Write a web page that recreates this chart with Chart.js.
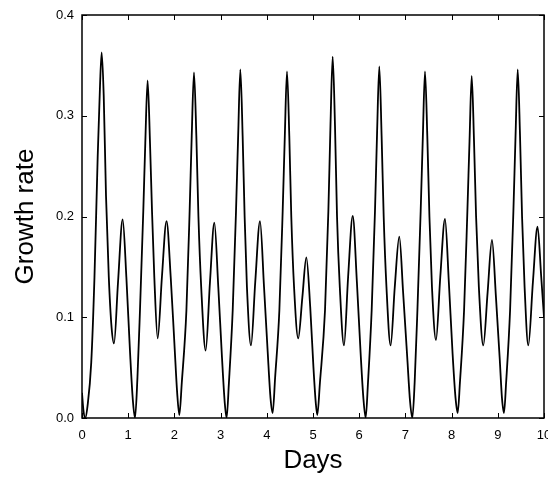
<!DOCTYPE html>
<html>
<head>
<meta charset="utf-8">
<script src="https://cdn.jsdelivr.net/npm/chart.js@4.4.1/dist/chart.umd.min.js"></script>
<style>
  html, body { margin: 0; padding: 0; background: #fff; }
  #wrap { width: 548px; height: 477px; }
</style>
</head>
<body>
<div id="wrap"><canvas id="grafico" width="548" height="477"></canvas></div>
<script>
// dados (dias, taxa de crescimento)
const dias = [
  0.00, 0.03, 0.07, 0.12, 0.20, 0.27, 0.34, 0.39, 0.426, 0.47, 0.52, 0.58, 0.64, 0.693, 0.78, 0.88, 0.96, 1.04, 1.10, 1.147,
  1.20, 1.255, 1.327, 1.37, 1.42, 1.472, 1.515, 1.565, 1.638, 1.73, 1.83, 1.92, 2.00, 2.06, 2.107,
  2.16, 2.26, 2.33, 2.375, 2.424, 2.475, 2.52, 2.58, 2.677, 2.77, 2.865, 2.95, 3.03, 3.09, 3.13,
  3.18, 3.262, 3.334, 3.38, 3.427, 3.477, 3.52, 3.57, 3.658, 3.75, 3.853, 3.94, 4.02, 4.08, 4.127,
  4.18, 4.272, 4.344, 4.39, 4.437, 4.487, 4.53, 4.59, 4.68, 4.77, 4.856, 4.94, 5.01, 5.06, 5.093,
  5.15, 5.26, 5.333, 5.378, 5.426, 5.476, 5.52, 5.58, 5.671, 5.76, 5.86, 5.95, 6.03, 6.09, 6.14,
  6.19, 6.27, 6.342, 6.388, 6.435, 6.485, 6.53, 6.59, 6.68, 6.77, 6.868, 6.95, 7.04, 7.10, 7.15,
  7.20, 7.26, 7.331, 7.378, 7.424, 7.474, 7.52, 7.575, 7.662, 7.755, 7.857, 7.94, 8.02, 8.085, 8.132,
  8.18, 8.27, 8.342, 8.388, 8.435, 8.485, 8.53, 8.59, 8.686, 8.78, 8.874, 8.96, 9.04, 9.09, 9.134,
  9.18, 9.266, 9.338, 9.384, 9.431, 9.481, 9.525, 9.58, 9.66, 9.76, 9.86, 9.94, 10.0
];
const taxa = [
  0.025, 0.008, 0.000, 0.012, 0.055, 0.14, 0.26, 0.33, 0.363, 0.32, 0.22, 0.14, 0.09, 0.074, 0.135, 0.197, 0.14, 0.065, 0.018, 0.000,
  0.04, 0.107, 0.206, 0.273, 0.335, 0.273, 0.206, 0.14, 0.079, 0.14, 0.1955, 0.14, 0.074, 0.025, 0.003,
  0.035, 0.107, 0.206, 0.28, 0.343, 0.28, 0.20, 0.13, 0.067, 0.135, 0.194, 0.13, 0.06, 0.015, 0.000,
  0.035, 0.107, 0.206, 0.28, 0.346, 0.28, 0.20, 0.13, 0.072, 0.135, 0.1955, 0.13, 0.065, 0.02, 0.005,
  0.04, 0.107, 0.206, 0.28, 0.344, 0.28, 0.20, 0.13, 0.079, 0.12, 0.1595, 0.11, 0.05, 0.015, 0.003,
  0.035, 0.107, 0.206, 0.29, 0.3586, 0.29, 0.20, 0.13, 0.072, 0.14, 0.2005, 0.135, 0.065, 0.02, 0.000,
  0.035, 0.107, 0.206, 0.285, 0.349, 0.28, 0.20, 0.13, 0.072, 0.13, 0.18, 0.125, 0.06, 0.017, 0.000,
  0.035, 0.107, 0.206, 0.28, 0.344, 0.28, 0.20, 0.13, 0.0774, 0.14, 0.1975, 0.135, 0.065, 0.02, 0.005,
  0.035, 0.107, 0.206, 0.275, 0.3395, 0.275, 0.20, 0.13, 0.072, 0.125, 0.1767, 0.12, 0.06, 0.02, 0.005,
  0.035, 0.107, 0.206, 0.28, 0.346, 0.28, 0.20, 0.13, 0.072, 0.135, 0.19, 0.14, 0.10
];
const ticksX = [0, 1, 2, 3, 4, 5, 6, 7, 8, 9, 10];
const ticksY = [0, 0.1, 0.2, 0.3, 0.4];

const fonte = 'Arial, "Liberation Sans", Helvetica, sans-serif';

// moldura e marcas internas nos quatro lados
const moldura = {
  id: 'moldura',
  afterDraw(chart) {
    const ctx = chart.ctx;
    const a = chart.chartArea;
    const sx = chart.scales.x, sy = chart.scales.y;
    ctx.save();
    ctx.strokeStyle = '#000';
    ctx.lineWidth = 1.5;
    ctx.strokeRect(a.left, a.top, a.right - a.left, a.bottom - a.top);
    ctx.lineWidth = 1;
    ctx.beginPath();
    ticksX.forEach(v => {
      const px = Math.round(sx.getPixelForValue(v)) + 0.5;
      ctx.moveTo(px, a.bottom); ctx.lineTo(px, a.bottom - 5);
      ctx.moveTo(px, a.top); ctx.lineTo(px, a.top + 5);
    });
    ticksY.forEach(v => {
      const py = Math.round(sy.getPixelForValue(v)) + 0.5;
      ctx.moveTo(a.left, py); ctx.lineTo(a.left + 5, py);
      ctx.moveTo(a.right, py); ctx.lineTo(a.right - 5, py);
    });
    ctx.stroke();
    ctx.restore();
  }
};

new Chart(document.getElementById('grafico'), {
  type: 'line',
  data: {
    datasets: [{
      data: dias.map((d, i) => ({ x: d, y: taxa[i] })),
      borderColor: '#000',
      borderWidth: 1.8,
      pointRadius: 0,
      fill: false,
      cubicInterpolationMode: 'monotone'
    }]
  },
  options: {
    responsive: false,
    animation: false,
    layout: { padding: { left: 0, right: 4, top: 15, bottom: 0 } },
    plugins: { legend: { display: false }, tooltip: { enabled: false } },
    scales: {
      x: {
        type: 'linear', min: 0, max: 10,
        afterBuildTicks: s => { s.ticks = ticksX.map(v => ({ value: v })); },
        afterFit: s => { s.height = 59; s.paddingLeft = 0; s.paddingRight = 0; },
        grid: { display: false, drawTicks: false },
        border: { display: false },
        ticks: { color: '#000', padding: 10, font: { family: fonte, size: 13 }, maxRotation: 0 },
        title: { display: true, text: 'Days', color: '#000', font: { family: fonte, size: 26 }, padding: { top: 0, bottom: 1 } }
      },
      y: {
        type: 'linear', min: 0, max: 0.4,
        afterBuildTicks: s => { s.ticks = ticksY.map(v => ({ value: v })); },
        afterFit: s => { s.width = 82; s.paddingTop = 0; s.paddingBottom = 0; },
        grid: { display: false, drawTicks: false },
        border: { display: false },
        ticks: { color: '#000', padding: 8, font: { family: fonte, size: 13 }, callback: v => v.toFixed(1) },
        title: { display: true, text: 'Growth rate', color: '#000', font: { family: fonte, size: 26 }, padding: { top: 10, bottom: 0 } }
      }
    }
  },
  plugins: [moldura]
});
</script>
</body>
</html>
